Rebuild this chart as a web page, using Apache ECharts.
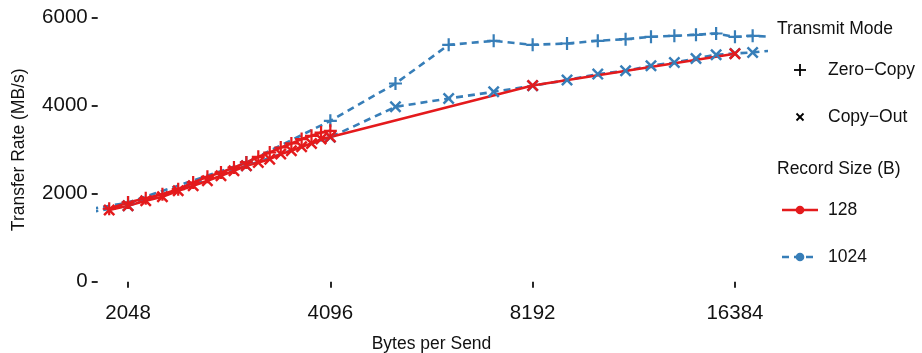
<!DOCTYPE html>
<html><head><meta charset="utf-8">
<script src="https://cdn.jsdelivr.net/npm/echarts@6/dist/echarts.min.js"></script>
<style>html,body{margin:0;padding:0;background:#fff}#c{width:922px;height:353px}</style>
</head><body><div id="c"></div>
<script>
// ---- data ----
const xTickValues = [2048, 4096, 8192, 16384];
const yTickValues = [0, 2000, 4000, 6000];

const bytesZero128 = [1920, 2048, 2176, 2304, 2432, 2560, 2688, 2816, 2944, 3072, 3200, 3328, 3456, 3584, 3712, 3840, 3968, 4096];
const rateZero128  = [1660, 1800, 1900, 1990, 2105, 2257, 2386, 2484, 2598, 2712, 2841, 2939, 3052, 3144, 3243, 3318, 3393, 3432];

const bytesCopy128 = [1920, 2048, 2176, 2304, 2432, 2560, 2688, 2816, 2944, 3072, 3200, 3328, 3456, 3584, 3712, 3840, 3968, 4096, 8192, 16384];
const rateCopy128  = [1630, 1727, 1841, 1932, 2068, 2182, 2295, 2409, 2523, 2636, 2712, 2788, 2902, 2977, 3068, 3144, 3243, 3290, 4460, 5185];

const bytes1024    = [1024, 2048, 3072, 4096, 5120, 6144, 7168, 8192, 9216, 10240, 11264, 12288, 13312, 14336, 15360, 16384, 17408, 18432];
const rateZero1024 = [1000, 1800, 2712, 3659, 4507, 5386, 5477, 5386, 5416, 5477, 5515, 5568, 5590, 5614, 5643, 5568, 5590, 5570];
const rateCopy1024 = [950, 1727, 2636, 3285, 3977, 4166, 4318, 4455, 4584, 4720, 4795, 4909, 4985, 5076, 5159, 5190, 5211, 5250];

// ---- chart ----
const FONT = '"Liberation Sans", Arial, Helvetica, sans-serif';
const RED = '#E41A1C', BLUE = '#377EB8', TXT = '#111';
const PLUS = 'path://M0,4.15H10V5.85H0Z M4.15,0H5.85V10H4.15Z';
const zip = (xs, ys) => xs.map((x, i) => [x, ys[i]]);

function mkSeries(name, xs, ys, color, dashed, cross) {
  return {
    name, type: 'line', data: zip(xs, ys), clip: true,
    symbol: PLUS, symbolSize: cross ? 14.5 : 13, symbolRotate: cross ? 45 : 0,
    showAllSymbol: true,
    itemStyle: { color: color, borderWidth: 0 },
    lineStyle: { color: color, width: 2.6, type: dashed ? [7, 5] : 'solid' },
    emphasis: { disabled: true }, silent: true
  };
}

const chart = echarts.init(document.getElementById('c'), null, { renderer: 'canvas' });
const L = 97.7, R = 765.3, T = 4.6, B = 295;
const LF = 17.5;

const graphic = [
  { type: 'text', left: 777, top: 20, style: { text: 'Transmit Mode', fontSize: LF, fontFamily: FONT, fill: TXT } },
  { type: 'line', shape: { x1: 794, y1: 70, x2: 806, y2: 70 }, style: { stroke: '#000', lineWidth: 1.8 } },
  { type: 'line', shape: { x1: 800, y1: 64, x2: 800, y2: 76 }, style: { stroke: '#000', lineWidth: 1.8 } },
  { type: 'text', left: 828, top: 61, style: { text: 'Zero\u2212Copy', fontSize: LF, fontFamily: FONT, fill: TXT } },
  { type: 'line', shape: { x1: 796.5, y1: 113.5, x2: 803.5, y2: 120.5 }, style: { stroke: '#000', lineWidth: 1.8 } },
  { type: 'line', shape: { x1: 796.5, y1: 120.5, x2: 803.5, y2: 113.5 }, style: { stroke: '#000', lineWidth: 1.8 } },
  { type: 'text', left: 828, top: 108, style: { text: 'Copy\u2212Out', fontSize: LF, fontFamily: FONT, fill: TXT } },
  { type: 'text', left: 777, top: 160, style: { text: 'Record Size (B)', fontSize: LF, fontFamily: FONT, fill: TXT } },
  { type: 'line', shape: { x1: 782, y1: 210, x2: 818, y2: 210 }, style: { stroke: RED, lineWidth: 2.6 } },
  { type: 'circle', shape: { cx: 800, cy: 210, r: 4.3 }, style: { fill: RED } },
  { type: 'text', left: 828, top: 201, style: { text: '128', fontSize: LF, fontFamily: FONT, fill: TXT } },
  { type: 'line', shape: { x1: 782, y1: 257, x2: 818, y2: 257 }, style: { stroke: BLUE, lineWidth: 2.6, lineDash: [7, 5] } },
  { type: 'circle', shape: { cx: 800, cy: 257, r: 4.3 }, style: { fill: BLUE } },
  { type: 'text', left: 828, top: 248, style: { text: '1024', fontSize: LF, fontFamily: FONT, fill: TXT } }
];

chart.setOption({
  animation: false,
  backgroundColor: '#fff',
  grid: { left: L, right: 922 - R, top: T, bottom: 353 - B, containLabel: false, outerBoundsMode: 'none' },
  xAxis: {
    type: 'log', logBase: 2, min: 1845.8, max: 18179,
    axisLine: { show: false }, splitLine: { show: false }, minorTick: { show: false },
    axisTick: { show: true, length: 6, lineStyle: { color: '#111', width: 1.8 }, customValues: xTickValues },
    axisLabel: { customValues: xTickValues, fontSize: 20.5, color: TXT, fontFamily: FONT, margin: 8,
                 formatter: v => String(Math.round(v)) },
    name: 'Bytes per Send', nameLocation: 'middle', nameGap: 40,
    nameTextStyle: { fontSize: 17.5, color: TXT, fontFamily: FONT }
  },
  yAxis: {
    type: 'value', min: -300, max: 6300,
    axisLine: { show: false }, splitLine: { show: false },
    axisTick: { show: true, length: 6, lineStyle: { color: '#111', width: 1.8 }, customValues: yTickValues },
    axisLabel: { customValues: yTickValues, fontSize: 20.5, color: TXT, fontFamily: FONT, margin: 10,
                 formatter: v => String(v) },
    name: 'Transfer Rate (MB/s)', nameLocation: 'middle', nameGap: 70, nameRotate: 90,
    nameTextStyle: { fontSize: 17.5, color: TXT, fontFamily: FONT }
  },
  series: [
    mkSeries('1024 Zero\u2212Copy', bytes1024, rateZero1024, BLUE, true, false),
    mkSeries('1024 Copy\u2212Out', bytes1024, rateCopy1024, BLUE, true, true),
    mkSeries('128 Zero\u2212Copy', bytesZero128, rateZero128, RED, false, false),
    mkSeries('128 Copy\u2212Out', bytesCopy128, rateCopy128, RED, false, true)
  ],
  graphic: graphic
});
</script>
</body></html>
